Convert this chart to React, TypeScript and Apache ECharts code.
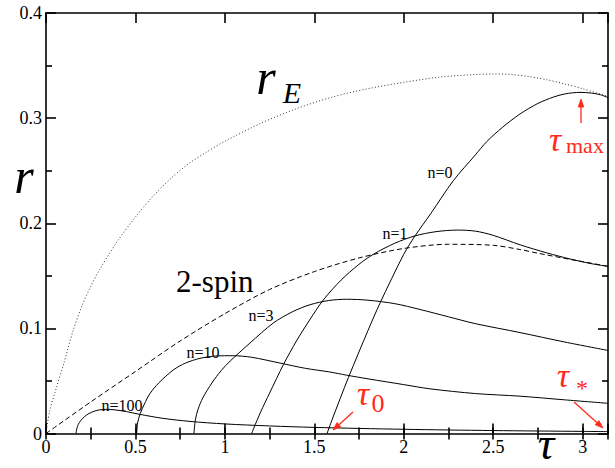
import React, { useEffect, useRef } from 'react';
import * as echarts from 'echarts';

// ---- axis ranges and tick labels ----
const X_MAX = Math.PI;
const Y_MAX = 0.4;
const xTickLabels = ['0', '0.5', '1', '1.5', '2', '2.5', '3'];
const yTickLabels = ['0', '0.1', '0.2', '0.3', '0.4'];

// ---- series values: [tau, r] ----
const rE: number[][] = [
  [0, 0], [0.02, 0.021], [0.05, 0.039], [0.1, 0.067], [0.15, 0.097], [0.2, 0.121],
  [0.25, 0.14], [0.3, 0.156], [0.4, 0.183], [0.5, 0.206], [0.6, 0.226], [0.7, 0.243],
  [0.8, 0.257], [0.9, 0.268], [1.0, 0.278], [1.2, 0.295], [1.4, 0.309], [1.6, 0.32],
  [1.8, 0.328], [2.0, 0.334], [2.2, 0.339], [2.4, 0.3415], [2.5, 0.342], [2.6, 0.3415],
  [2.7, 0.3395], [2.8, 0.3365], [2.9, 0.3325], [3.0, 0.328], [3.1416, 0.3205],
];

const twoSpin: number[][] = [
  [0, 0], [0.25, 0.03], [0.5, 0.059], [0.75, 0.088], [1.0, 0.114], [1.25, 0.137],
  [1.5, 0.154], [1.75, 0.167], [2.0, 0.176], [2.25, 0.18], [2.5, 0.179], [2.65, 0.175],
  [2.75, 0.1715], [2.93, 0.1656], [3.0, 0.1635], [3.1416, 0.159],
];

const n0: number[][] = [
  [1.571, 0], [1.6, 0.0135], [1.69, 0.053], [1.8, 0.098], [1.867, 0.124], [2.0, 0.1705],
  [2.063, 0.188], [2.15, 0.209], [2.277, 0.2405], [2.4, 0.265], [2.463, 0.2775],
  [2.55, 0.291], [2.65, 0.304], [2.75, 0.314], [2.836, 0.32], [2.9, 0.323],
  [2.985, 0.3245], [3.05, 0.3238], [3.1, 0.3222], [3.1416, 0.3195],
];

const n1: number[][] = [
  [1.15, 0], [1.16, 0.0045], [1.2, 0.0205], [1.25, 0.0385], [1.327, 0.0655], [1.4, 0.088],
  [1.47, 0.107], [1.55, 0.127], [1.65, 0.146], [1.75, 0.161], [1.83, 0.1705], [1.95, 0.181],
  [2.063, 0.188], [2.18, 0.192], [2.3, 0.1935], [2.4, 0.1925], [2.5, 0.1885], [2.65, 0.1795],
  [2.8, 0.1718], [2.93, 0.166], [3.05, 0.1615], [3.1416, 0.159],
];

const n3: number[][] = [
  [0.827, 0], [0.835, 0.013], [0.85, 0.023], [0.877, 0.034], [0.927, 0.048], [0.98, 0.06],
  [1.03, 0.069], [1.14, 0.086], [1.27, 0.105], [1.38, 0.116], [1.476, 0.1225], [1.58, 0.1265],
  [1.68, 0.1277], [1.8, 0.1268], [1.95, 0.1235], [2.09, 0.118], [2.25, 0.111], [2.4, 0.1045],
  [2.65, 0.096], [2.9, 0.087], [3.1416, 0.079],
];

const n10: number[][] = [
  [0.507, 0], [0.512, 0.01], [0.527, 0.019], [0.55, 0.028], [0.581, 0.038], [0.63, 0.048],
  [0.712, 0.0605], [0.78, 0.067], [0.861, 0.0715], [0.95, 0.0737], [1.047, 0.074],
  [1.15, 0.0725], [1.308, 0.067], [1.45, 0.062], [1.587, 0.0585], [1.68, 0.0555],
  [1.8, 0.052], [2.0, 0.0465], [2.146, 0.0425], [2.4, 0.038], [2.65, 0.0355], [2.9, 0.032],
  [3.1416, 0.0287],
];

const n100: number[][] = [
  [0.168, 0], [0.172, 0.0045], [0.18, 0.0085], [0.195, 0.0125], [0.215, 0.016], [0.24, 0.019],
  [0.27, 0.0212], [0.3, 0.0225], [0.34, 0.023], [0.38, 0.0226], [0.45, 0.0208], [0.525, 0.0182],
  [0.65, 0.0145], [0.805, 0.0115], [1.0, 0.0091], [1.25, 0.0072], [1.5, 0.0058], [2.0, 0.004],
  [2.5, 0.0028], [3.0, 0.002], [3.1416, 0.0018],
];

const SERIF = 'Liberation Serif';
const RED = '#ff2a1a';

function curve(name: string, data: number[][], type: any, width = 1, color = '#000') {
  return {
    type: 'line',
    name,
    data,
    showSymbol: false,
    symbol: 'none',
    smooth: 0.3,
    silent: true,
    lineStyle: { color, width, type },
  };
}

function txt(text: string, x: number, y: number, size: number, opts: any = {}) {
  return {
    type: 'text',
    x,
    y,
    z: 10,
    silent: true,
    style: {
      text,
      font: `${opts.italic ? 'italic ' : ''}${size}px ${SERIF}`,
      fill: opts.color || '#000',
      textAlign: opts.align || 'center',
      textVerticalAlign: opts.valign || 'middle',
    },
  };
}

function arrow(x1: number, y1: number, x2: number, y2: number) {
  const dx = x2 - x1;
  const dy = y2 - y1;
  const L = Math.hypot(dx, dy);
  const ux = dx / L;
  const uy = dy / L;
  const hl = 8;
  const hw = 2.8;
  const bx = x2 - ux * hl;
  const by = y2 - uy * hl;
  return [
    { type: 'line', z: 10, silent: true, shape: { x1, y1, x2: bx, y2: by }, style: { stroke: RED, lineWidth: 1.3 } },
    {
      type: 'polygon', z: 10, silent: true,
      shape: { points: [[bx - uy * hw, by + ux * hw], [x2, y2], [bx + uy * hw, by - ux * hw]] },
      style: { fill: RED, stroke: RED, lineWidth: 0.8 },
    },
  ];
}

const axisLineStyle = { color: '#000', width: 1.6 };

export default function App() {
  const ref = useRef<HTMLDivElement>(null);
  useEffect(() => {
    const chart = echarts.init(ref.current!, null, { renderer: 'svg' });
    const xBase = {
      type: 'value', min: 0, max: X_MAX, splitLine: { show: false },
    };
    const option: any = {
      animation: false,
      backgroundColor: '#fff',
      textStyle: { fontFamily: SERIF },
      grid: { left: 46, right: 7, top: 13, bottom: 34.5, containLabel: false },
      xAxis: [
        {
          ...xBase, position: 'bottom', interval: 0.5,
          axisLine: { show: true, onZero: false, lineStyle: axisLineStyle },
          axisTick: { show: true, inside: true, length: 10, lineStyle: axisLineStyle },
          axisLabel: {
            show: true, margin: 4, color: '#000', fontSize: 18, fontFamily: SERIF,
            formatter: (_v: number, i: number) => xTickLabels[i] ?? '',
          },
        },
        {
          ...xBase, position: 'bottom', interval: 0.25,
          axisLine: { show: false },
          axisTick: { show: true, inside: true, length: 6, lineStyle: axisLineStyle },
          axisLabel: { show: false },
        },
        {
          ...xBase, position: 'top', interval: 0.5,
          axisLine: { show: true, onZero: false, lineStyle: axisLineStyle },
          axisTick: { show: true, inside: true, length: 10, lineStyle: axisLineStyle },
          axisLabel: { show: false },
        },
        {
          ...xBase, position: 'top', interval: 0.25,
          axisLine: { show: false },
          axisTick: { show: true, inside: true, length: 6, lineStyle: axisLineStyle },
          axisLabel: { show: false },
        },
      ],
      yAxis: [
        {
          type: 'value', position: 'left', min: 0, max: Y_MAX, interval: 0.1,
          splitLine: { show: false },
          axisLine: { show: true, onZero: false, lineStyle: axisLineStyle },
          axisTick: { show: true, inside: true, length: 10, lineStyle: axisLineStyle },
          minorTick: { show: true, splitNumber: 2, length: 6, lineStyle: axisLineStyle },
          axisLabel: {
            show: true, margin: 4, color: '#000', fontSize: 18, fontFamily: SERIF,
            formatter: (_v: number, i: number) => yTickLabels[i] ?? '',
          },
        },
        {
          type: 'value', position: 'right', min: 0, max: Y_MAX, interval: 0.1,
          splitLine: { show: false },
          axisLine: { show: true, onZero: false, lineStyle: axisLineStyle },
          axisTick: { show: true, inside: true, length: 10, lineStyle: axisLineStyle },
          minorTick: { show: true, splitNumber: 2, length: 6, lineStyle: axisLineStyle },
          axisLabel: { show: false },
        },
      ],
      series: [
        curve('r_E', rE, [1, 2.2], 1, '#333'),
        curve('2-spin', twoSpin, [5, 3]),
        curve('n=0', n0, 'solid'),
        curve('n=1', n1, 'solid'),
        curve('n=3', n3, 'solid'),
        curve('n=10', n10, 'solid'),
        curve('n=100', n100, 'solid'),
      ],
      graphic: [
        // axis titles
        txt('r', 24, 176, 50, { italic: true }),
        txt('τ', 546, 466, 46, { italic: true, valign: 'bottom' }),
        // r_E
        txt('r', 266, 77, 50, { italic: true }),
        txt('E', 292, 92, 30, { italic: true }),
        // 2-spin
        txt('2-spin', 176, 281, 31, { align: 'left' }),
        // n labels
        txt('n=0', 440, 172, 16),
        txt('n=1', 395, 233, 16),
        txt('n=3', 261, 315, 16),
        txt('n=10', 203, 352, 16),
        txt('n=100', 122, 405, 16),
        // red annotations
        txt('τ', 555, 139, 34, { italic: true, color: RED }),
        txt('max', 566, 145, 22, { align: 'left', color: RED }),
        txt('τ', 563, 375, 34, { italic: true, color: RED }),
        txt('*', 582, 388, 24, { color: RED }),
        txt('τ', 363, 393, 34, { italic: true, color: RED }),
        txt('0', 378, 403, 26, { color: RED }),
        ...arrow(581, 123, 581, 99),
        ...arrow(574, 402, 603, 428),
        ...arrow(353, 412, 333, 430),
      ],
    };
    chart.setOption(option);
    return () => chart.dispose();
  }, []);
  return (
    <div style={{ position: 'absolute', left: 0, top: 0, width: 615, height: 468 }}>
      <span
        aria-hidden="true"
        style={{
          position: 'absolute', left: 0, top: 0, fontFamily: SERIF, fontSize: 12,
          color: 'transparent', pointerEvents: 'none', zIndex: 0,
        }}
      >
        <span>0</span><i>r</i>
      </span>
      <div
        ref={ref}
        style={{ position: 'absolute', left: 0, top: 0, width: 615, height: 468, background: '#fff', zIndex: 1 }}
      />
    </div>
  );
}
